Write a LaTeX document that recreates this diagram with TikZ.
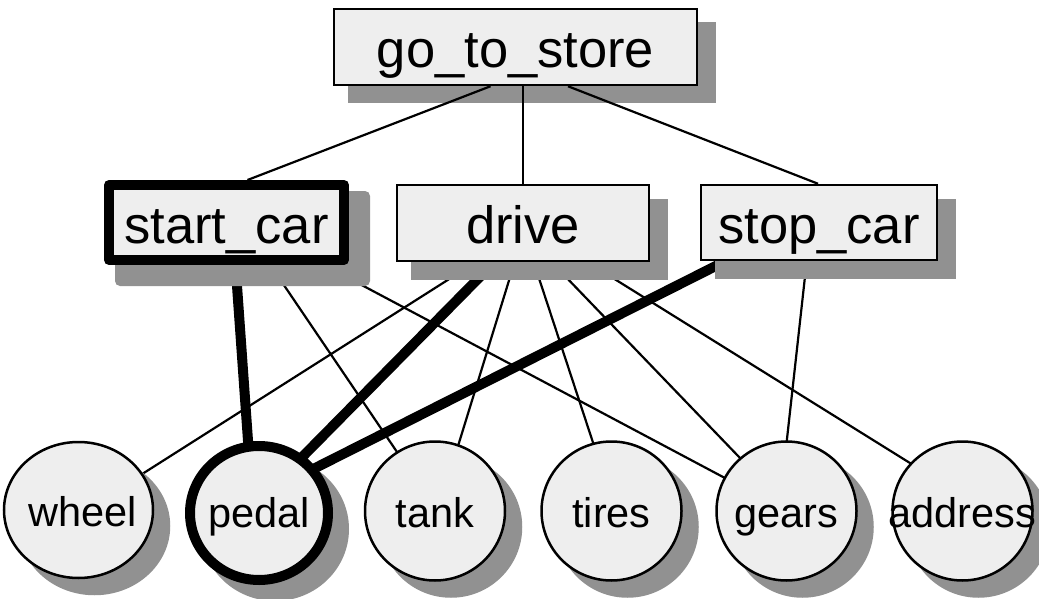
\documentclass[tikz,border=0pt]{standalone}
\usepackage{fontspec}
\setmainfont{Liberation Sans}
\usetikzlibrary{calc,shapes.geometric}
\pgfdeclarelayer{bg}
\pgfdeclarelayer{edges}
\pgfdeclarelayer{shadows}
\pgfsetlayers{bg,edges,shadows,main}
\definecolor{shadowgray}{RGB}{145,145,145}
\definecolor{nodefill}{RGB}{238,238,238}
\begin{document}
\begin{tikzpicture}[x=1pt,y=-1pt,
  box/.style={draw=black, fill=nodefill, line width=2.5pt, rectangle, inner sep=0pt,
    font=\fontsize{52.5}{60}\selectfont, text height=45pt, text depth=4pt},
  selbox/.style={box, line width=10pt, line join=round},
  circ/.style={draw=black, fill=nodefill, line width=2.5pt, ellipse, inner sep=0pt,
    minimum width=140pt, minimum height=139pt,
    font=\fontsize{41.5}{48}\selectfont, text height=34pt, text depth=2pt},
  selcirc/.style={circ, line width=10pt},
  link/.style={draw=black, line width=2.2pt},
  hotlink/.style={draw=black, line width=10pt},
  dropfill/.style={fill=shadowgray}
]
\useasboundingbox (0,0) rectangle (1039,599);
\begin{pgfonlayer}{bg}
  \fill[white] (0,0) rectangle (1039,599);
\end{pgfonlayer}

% boxes
\node[box, minimum width=363pt, minimum height=76pt] (gts) at (515.5,47) {go\_to\_store};
\node[selbox, minimum width=235pt, minimum height=75pt] (sc) at (226.5,222.5) {start\_car};
\node[box, minimum width=252pt, minimum height=76pt] (drive) at (523,223) {drive};
\node[box, minimum width=236pt, minimum height=75pt] (stop) at (819,222.5) {stop\_car};

% circles
\node[circ, minimum width=149pt, minimum height=136pt] (wheel) at (78.5,510) {\makebox[0pt]{\hspace{8pt}wheel}};
\node[selcirc, minimum width=138pt, minimum height=134pt, text height=30pt] (pedal) at (259,513) {\makebox[0pt]{pedal}};
\node[circ] (tank) at (435,511) {\makebox[0pt]{tank}};
\node[circ] (tires) at (611.5,511) {\makebox[0pt]{tires}};
\node[circ] (gears) at (786.5,511) {\makebox[0pt]{gears}};
\node[circ] (address) at (962.5,511) {\makebox[0pt]{address}};

\begin{pgfonlayer}{edges}
  \fill[dropfill] ($(gts.north west)+(14.75,14.75)$) rectangle ($(gts.south east)+(17.25,17.25)$);
  % top edges
  \draw[link] ($(gts.south)+(-25,0)$) -- ($(sc.north)+(21,0)$);
  \draw[link] ($(gts.south)+(7.5,0)$) -- ($(drive.north)+(0,0)$);
  \draw[link] ($(gts.south)+(52.5,0)$) -- ($(stop.north)+(-1,0)$);
  % lower edges
  \draw[hotlink] ($(sc.center)+(6,0)$) -- ($(pedal.center)+(-6,-2)$);
  \draw[link] ($(sc.center)+(15,0)$) -- ($(tank.center)+(2,0)$);
  \draw[link] ($(sc.center)+(17.5,0)$) -- ($(gears.center)+(0.5,0)$);
  \draw[link] ($(drive.center)+(16,-1)$) -- ($(wheel.center)+(7,0)$);
  \draw[hotlink] ($(drive.center)+(11,-1)$) -- ($(pedal.center)+(-13,1)$);
  \draw[link] ($(drive.center)+(4,-1)$) -- ($(tank.center)+(3,0)$);
  \draw[link] ($(drive.center)+(-2.5,-1)$) -- ($(tires.center)+(4,0)$);
  \draw[link] ($(drive.center)+(-10,-1)$) -- ($(gears.center)+(4.5,0)$);
  \draw[link] ($(drive.center)+(0,-1)$) -- ($(address.center)+(24.5,0)$);
  \draw[hotlink] ($(stop.center)+(-17,0)$) -- ($(pedal.center)+(-35,1)$);
  \draw[link] ($(stop.center)+(-8,0)$) -- ($(gears.center)+(-7.5,0)$);
\end{pgfonlayer}

\begin{pgfonlayer}{shadows}
  \fill[dropfill, rounded corners=5pt] ($(sc.north west)+(11,11)$) rectangle ($(sc.south east)+(21,21)$);
  \fill[dropfill] ($(drive.north west)+(14.75,14.75)$) rectangle ($(drive.south east)+(17.25,17.25)$);
  \fill[dropfill] ($(stop.north west)+(14.75,14.75)$) rectangle ($(stop.south east)+(17.25,17.25)$);
  \fill[dropfill] ($(wheel.center)+(16,16)$) ellipse [x radius=75.75pt, y radius=69.25pt];
  \fill[dropfill] ($(pedal.center)+(16,16)$) ellipse [x radius=74pt, y radius=72pt];
  \fill[dropfill] ($(tank.center)+(16,16)$) ellipse [x radius=71.25pt, y radius=70.75pt];
  \fill[dropfill] ($(tires.center)+(16,16)$) ellipse [x radius=71.25pt, y radius=70.75pt];
  \fill[dropfill] ($(gears.center)+(16,16)$) ellipse [x radius=71.25pt, y radius=70.75pt];
  \fill[dropfill] ($(address.center)+(16,16)$) ellipse [x radius=71.25pt, y radius=70.75pt];
\end{pgfonlayer}
\end{tikzpicture}
\end{document}
